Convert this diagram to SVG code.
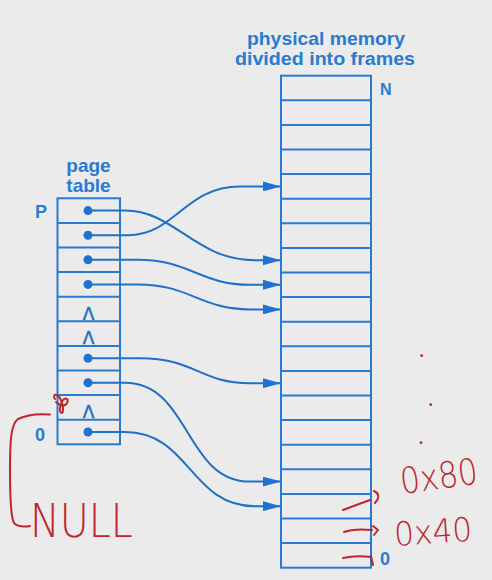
<svg xmlns="http://www.w3.org/2000/svg" width="492" height="580" viewBox="0 0 492 580">
<style>
.bg{fill:#ebebeb}
.box{fill:none;stroke:#2a7bd0;stroke-width:2}
.grid{stroke:#2a7bd0;stroke-width:2}
.lbl{font-family:"Liberation Sans",Arial,sans-serif;font-weight:bold;fill:#2a7bd0}
.lam{font-family:"DejaVu Sans","Liberation Sans",sans-serif;fill:#1f6fc4;font-size:17px;text-anchor:middle;stroke:#1f6fc4;stroke-width:0.5}
.dot{fill:#1f72d2}
.conn{fill:none;stroke:#1f70c8;stroke-width:2}
.red{fill:none;stroke:#c0242c;stroke-width:2;stroke-linecap:round;stroke-linejoin:round}
.redt{font-family:"DejaVu Sans","Liberation Sans",sans-serif;font-weight:200;fill:#c0242c}
</style>
<defs>
<marker id="ah" markerUnits="userSpaceOnUse" markerWidth="18" markerHeight="10" refX="18" refY="5" orient="auto">
<path d="M0,0 L18,5 L0,10 z" fill="#1f72d2"/>
</marker>
</defs>
<rect class="bg" x="0" y="0" width="492" height="580"/>

<g id="memory">
<text class="lbl" x="326" y="45" font-size="19" text-anchor="middle" textLength="158" lengthAdjust="spacingAndGlyphs">physical memory</text>
<text class="lbl" x="325" y="64.5" font-size="19" text-anchor="middle" textLength="180" lengthAdjust="spacingAndGlyphs">divided into frames</text>
<rect class="box" x="281" y="75.7" width="90" height="492"/>
<path class="grid" d="M281 100.3H371M281 124.9H371M281 149.5H371M281 174.1H371M281 198.7H371M281 223.3H371M281 247.9H371M281 272.5H371M281 297.1H371M281 321.7H371M281 346.3H371M281 370.9H371M281 395.5H371M281 420.1H371M281 444.7H371M281 469.3H371M281 493.9H371M281 518.5H371M281 543.1H371"/>
<text class="lbl" x="380" y="94.5" font-size="16">N</text>
<text class="lbl" x="380" y="565" font-size="18">0</text>
</g>

<g id="page-table">
<text class="lbl" x="88.5" y="172" font-size="19" text-anchor="middle">page</text>
<text class="lbl" x="88.5" y="191.5" font-size="19" text-anchor="middle">table</text>
<text class="lbl" x="35" y="218" font-size="18">P</text>
<text class="lbl" x="35" y="441" font-size="18">0</text>
<rect class="box" x="57.5" y="198.3" width="62.5" height="246"/>
<path class="grid" d="M57.5 222.9H120M57.5 247.5H120M57.5 272.1H120M57.5 296.7H120M57.5 321.3H120M57.5 345.9H120M57.5 370.5H120M57.5 395.1H120M57.5 419.7H120"/>
<circle class="dot" cx="88" cy="210.6" r="4.5"/>
<circle class="dot" cx="88" cy="235.2" r="4.5"/>
<circle class="dot" cx="88" cy="259.8" r="4.5"/>
<circle class="dot" cx="88" cy="284.4" r="4.5"/>
<circle class="dot" cx="88" cy="358.2" r="4.5"/>
<circle class="dot" cx="88" cy="382.8" r="4.5"/>
<circle class="dot" cx="88" cy="432" r="4.5"/>
<text class="lam" x="88.5" y="319.5">Λ</text>
<text class="lam" x="88.5" y="344">Λ</text>
<text class="lam" x="88.5" y="418">Λ</text>
</g>

<g id="connectors">
<path class="conn" marker-end="url(#ah)" d="M88 210.6H125C175 210.6 195 260.2 255 260.2H281"/>
<path class="conn" marker-end="url(#ah)" d="M88 235.2H128C175 235.2 185 186.4 240 186.4H281"/>
<path class="conn" marker-end="url(#ah)" d="M88 259.8H138C190 259.8 200 284.8 250 284.8H281"/>
<path class="conn" marker-end="url(#ah)" d="M88 284.4H138C190 284.4 200 309.4 250 309.4H281"/>
<path class="conn" marker-end="url(#ah)" d="M88 358.2H140C195 358.2 200 383.2 250 383.2H281"/>
<path class="conn" marker-end="url(#ah)" d="M88 382.8H125C190 382.8 185 481.6 250 481.6H281"/>
<path class="conn" marker-end="url(#ah)" d="M88 432H125C190 432 190 506.2 255 506.2H281"/>
</g>

<g id="annotations">
<path class="red" d="M50 414.5C38 413.5 26 415 18 419C11 424 10 440 10 470C10 500 11 518 14 523C18 527 24 527 30 526"/>
<path class="red" d="M55 399C52 394 57 393 60 398C63 404 64 411 62 413C59 413 59 405 63 400C66 397 69 399 67 403C65 407 60 406 56 402"/>
<text class="redt" x="30" y="537" font-size="46" textLength="103" lengthAdjust="spacingAndGlyphs">NULL</text>
<path class="red" d="M343 510L370 500M374 491C379 493 380 498 375 503"/>
<path class="red" d="M344 532C352 529 362 529 372 530M373 526L378 530L374 535"/>
<path class="red" d="M343 558C352 556 362 556 371 557M371 556L373 565"/>
<text class="redt" x="402" y="494" font-size="36" textLength="78" lengthAdjust="spacingAndGlyphs" transform="rotate(-8 402 494)">0x80</text>
<text class="redt" x="395" y="546" font-size="33" textLength="78" lengthAdjust="spacingAndGlyphs" transform="rotate(-4 395 546)">0x40</text>
<circle cx="421.7" cy="355.7" r="1.4" fill="#c0242c"/>
<circle cx="430.7" cy="404.7" r="1.4" fill="#c0242c"/>
<circle cx="421" cy="442.7" r="1.4" fill="#c0242c"/>
</g>
</svg>
